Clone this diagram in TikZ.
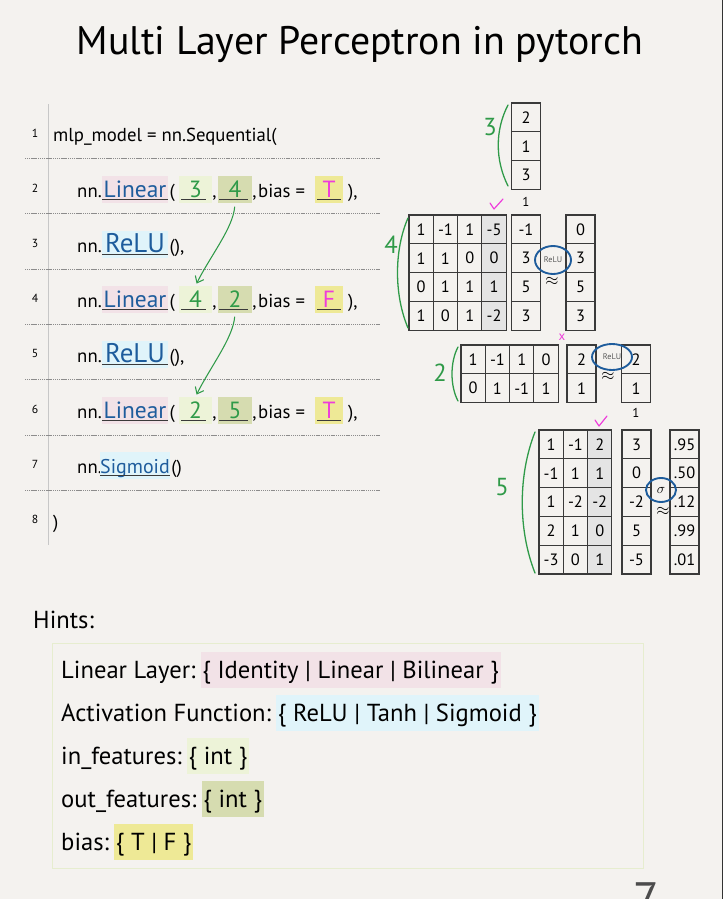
\documentclass[tikz,border=0pt]{standalone}
\usepackage{fontspec}
\setmainfont{PT Sans}
\usetikzlibrary{positioning,shapes.geometric,arrows.meta}

\definecolor{paper}{HTML}{F4F2EF}
\definecolor{hlpink}{HTML}{F2E2E7}
\definecolor{hlcyan}{HTML}{E0F4FA}
\definecolor{hlgreen}{HTML}{EDF3D8}
\definecolor{hlolive}{HTML}{D6DCB0}
\definecolor{hlyellow}{HTML}{EEE996}
\definecolor{inkblue}{HTML}{1E5C9C}
\definecolor{inkgreen}{HTML}{2F9A48}
\definecolor{inkmag}{HTML}{EE3CDB}
\definecolor{inkgray}{HTML}{3A3A3A}
\definecolor{colshade}{HTML}{E4E4E4}
\definecolor{framegreen}{HTML}{E6EDCF}

\tikzset{
  code/.style={font=\fontsize{16}{18}\selectfont, inner sep=0pt, anchor=base west},
  lnum/.style={font=\fontsize{10}{11}\selectfont, anchor=base},
  hl/.style={fill=#1, anchor=base, text height=16pt, text depth=3pt, inner ysep=2pt, inner xsep=0pt},
  word/.style={font=\fontsize{20}{22}\selectfont, text=inkblue},
  arg/.style={font=\fontsize{20}{22}\selectfont, text=inkgreen},
  flag/.style={font=\fontsize{20}{22}\selectfont, text=inkmag},
  uline/.style={draw=inkgray, line width=0.9pt},
  ruled/.style={draw=black!45, line width=0.6pt, dash pattern=on 1pt off 0.6pt},
  marginline/.style={draw=black!22, line width=0.8pt},
  flow/.style={draw=inkgreen, line width=0.9pt, -{Straight Barb[length=5pt,width=8pt]}, shorten <=3pt, shorten >=2pt},
  cell/.style={draw=inkgray, line width=0.9pt, minimum width=0.73cm, minimum height=0.864cm, inner sep=0pt, font=\fontsize{14}{16}\selectfont},
  vcell/.style={cell, minimum width=0.87cm},
  dimlabel/.style={font=\fontsize{21}{24}\selectfont, text=inkgreen},
  paren/.style={draw=inkgreen, line width=1.1pt, line cap=round},
  actring/.style={ellipse, draw=inkblue, line width=1.6pt, inner sep=0pt, font=\fontsize{7}{8}\selectfont, text=black!65},
  approx/.style={font=\Large, inner sep=0pt},
  tick/.style={draw=inkmag, line width=1pt, line cap=round, line join=round},
  crossmark/.style={font=\fontsize{11}{12}\selectfont, text=inkmag},
  hintkey/.style={font=\fontsize{21}{24}\selectfont, inner sep=0pt, anchor=base west},
  hintval/.style={hintkey, fill=#1, text height=19pt, text depth=5.5pt, inner ysep=3pt, inner xsep=1.5pt},
}

\begin{document}
\begin{tikzpicture}[x=0.03cm,y=-0.03cm]
  \useasboundingbox (0,0) rectangle (723,899);
  \fill[paper] (0,0) rectangle (723,899);
  \fill[black!80] (721.5,0) rectangle (723,899);

  \node[font=\fontsize{34}{40}\selectfont] (title) at (360,44) {Multi Layer Perceptron in pytorch};

  % code lines
  \draw[marginline] (48,104) -- (48,545);
  \foreach \n/\b in {1/137,2/192,3/247,4/302,5/357,6/413,7/468,8/523}
    \node[lnum] (ln\n) at (35,\b) {\n};
  \foreach \y in {158,213,269,324,379,435,490}
    \draw[ruled] (25,\y) -- (380,\y);
  \node[code] (l1) at (53,141.5) {mlp\_model = nn.Sequential(};

  \foreach \b/\fin/\fout/\fb [count=\k] in {197/3/4/T,307/4/2/F,418/2/5/T}{
    \node[code, anchor=base east] (nnl\k) at (102,\b) {nn.};
    \node[hl=hlpink, word, minimum width=1.98cm] (lin\k) at (135,\b) {Linear};
    \node[code] (po\k) at ([xshift=1pt]lin\k.base east) {(};
    \node[hl=hlgreen, arg, minimum width=0.99cm] (in\k) at (195.5,\b) {\fin};
    \node[code] (ca\k) at (in\k.base east) {,};
    \node[hl=hlolive, arg, minimum width=1.02cm] (out\k) at (235,\b) {\fout};
    \node[code] (cb\k) at (out\k.base east) {,};
    \node[code] (bias\k) at (258,\b) {bias =};
    \node[hl=hlyellow, flag, minimum width=0.84cm] (bv\k) at (329,\b) {\fb};
    \node[code] (pc\k) at ([xshift=4pt]bv\k.base east) {),};
    \draw[uline] ([yshift=3.3pt]lin\k.south west) -- ([yshift=3.3pt]lin\k.south east);
    \draw[uline] ([xshift=2pt,yshift=3.3pt]in\k.south west) -- ([xshift=-5pt,yshift=3.3pt]in\k.south east);
    \draw[uline] ([xshift=1pt,yshift=3.3pt]out\k.south west) -- ([xshift=-4pt,yshift=3.3pt]out\k.south east);
    \draw[uline] ([xshift=2pt,yshift=3.3pt]bv\k.south west) -- ([xshift=-2pt,yshift=3.3pt]bv\k.south east);
  }
  \foreach \b [count=\k] in {252,362}{
    \node[code, anchor=base east] (nnr\k) at (102,\b) {nn.};
    \node[hl=hlcyan, word, font=\fontsize{23}{25}\selectfont, minimum width=1.98cm] (relu\k) at (135,\b) {ReLU};
    \node[code] (rp\k) at ([xshift=1pt]relu\k.base east) {(),};
    \draw[uline] ([yshift=3.3pt]relu\k.south west) -- ([yshift=3.3pt]relu\k.south east);
  }
  \node[code, anchor=base east] (nns) at (102,473) {nn.};
  \node[hl=hlcyan, word, font=\fontsize{17}{19}\selectfont, minimum width=1.98cm] (sigm) at (135,473) {Sigmoid};
  \node[code] (sp) at ([xshift=1pt]sigm.base east) {()};
  \draw[uline] ([yshift=3.3pt]sigm.south west) -- ([yshift=3.3pt]sigm.south east);
  \node[code] (l8) at (53,528) {)};

  \draw[flow] (out1.south) .. controls +(-2,25) and +(15,-30) .. (in2.north);
  \draw[flow] (out2.south) .. controls +(-2,25) and +(15,-30) .. (in3.north);

  % input vector
  \foreach \v [count=\i] in {2,1,3}
    \node[vcell] (xin-\i) at (526,{103+28.8*(\i-0.5)}) {\v};
  \node[lnum, font=\fontsize{11}{12}\selectfont] (xone) at (526,206) {1};
  \node[dimlabel] (dx) at (490,127) {3};
  \draw[paren] (508,105) .. controls (495,130) and (495,160) .. (508,186);

  % layer 1
  \fill[colshade] (409+3*24.3,215) rectangle (409+4*24.3,215+4*28.8);
  \foreach \rowvals [count=\i] in {{1,-1,1,-5},{1,1,0,0},{0,1,1,1},{1,0,1,-2}}
    \foreach \v [count=\j] in \rowvals
      \node[cell] (wa-\i-\j) at ({409+24.3*(\j-0.5)},{215+28.8*(\i-0.5)}) {\v};
  \draw[tick] (490,203) -- (494,209) -- (503,199);
  \node[dimlabel] (dwa) at (391,245) {4};
  \draw[paren] (408,218) .. controls (394,250) and (394,295) .. (408,328);
  \foreach \v [count=\i] in {-1,3,5,3}
    \node[vcell] (za-\i) at (526,{215+28.8*(\i-0.5)}) {\v};
  \foreach \v [count=\i] in {0,3,5,3}
    \node[vcell] (aa-\i) at (580.5,{215+28.8*(\i-0.5)}) {\v};
  \node[actring, minimum width=1.08cm, minimum height=0.84cm] (acta) at (553,260) {ReLU};
  \node[approx] (apxa) at (552,281) {$\approx$};
  \node[crossmark] (xa) at (562,337) {x};

  % layer 2
  \foreach \rowvals [count=\i] in {{1,-1,1,0},{0,1,-1,1}}
    \foreach \v [count=\j] in \rowvals
      \node[cell] (wb-\i-\j) at ({461+24.3*(\j-0.5)},{345+28.8*(\i-0.5)}) {\v};
  \node[dimlabel] (dwb) at (440,373) {2};
  \draw[paren] (458,347) .. controls (450,362) and (450,386) .. (458,401);
  \foreach \v [count=\i] in {2,1}
    \node[vcell] (zb-\i) at (581.5,{345+28.8*(\i-0.5)}) {\v};
  \foreach \v [count=\i] in {2,1}
    \node[vcell] (ab-\i) at (636,{345+28.8*(\i-0.5)}) {\v};
  \node[actring, minimum width=1.2cm, minimum height=0.78cm] (actb) at (612,357) {ReLU};
  \node[approx] (apxb) at (608,376) {$\approx$};
  \node[lnum, font=\fontsize{11}{12}\selectfont] (bone) at (636,417) {1};

  % layer 3
  \fill[colshade] (539+2*24.3,430) rectangle (539+3*24.3,430+5*28.8);
  \foreach \rowvals [count=\i] in {{1,-1,2},{-1,1,1},{1,-2,-2},{2,1,0},{-3,0,1}}
    \foreach \v [count=\j] in \rowvals
      \node[cell] (wc-\i-\j) at ({539+24.3*(\j-0.5)},{430+28.8*(\i-0.5)}) {\v};
  \draw[tick] (595,420) -- (599,426) -- (607,416);
  \node[dimlabel] (dwc) at (502,487) {5};
  \draw[paren] (535,432) .. controls (518,475) and (518,530) .. (535,573);
  \foreach \v [count=\i] in {3,0,-2,5,-5}
    \node[vcell] (zc-\i) at (636.5,{430+28.8*(\i-0.5)}) {\v};
  \foreach \v [count=\i] in {.95,.50,.12,.99,.01}
    \node[vcell] (ac-\i) at (684.5,{430+28.8*(\i-0.5)}) {\v};
  \node[actring, minimum width=0.9cm, minimum height=0.72cm, font=\large, text=black] (actc) at (661,490) {$\sigma$};
  \node[approx] (apxc) at (663,511) {$\approx$};

  % hints
  \node[hintkey] (hints) at (33,628) {Hints:};
  \draw[framegreen, line width=0.6pt] (52,643) rectangle (643,868);
  \node[hintkey] (hk1) at (61,678) {Linear Layer:};
  \node[hintval=hlpink, right=4pt of hk1.base east, anchor=base west] (hv1) {\{ Identity | Linear | Bilinear \}};
  \node[hintkey] (hk2) at (61,721) {Activation Function:};
  \node[hintval=hlcyan, right=4pt of hk2.base east, anchor=base west] (hv2) {\{ ReLU | Tanh | Sigmoid \}};
  \node[hintkey] (hk3) at (61,764) {in\_features:};
  \node[hintval=hlgreen, right=4pt of hk3.base east, anchor=base west] (hv3) {\{ int \}};
  \node[hintkey] (hk4) at (61,807) {out\_features:};
  \node[hintval=hlolive, right=4pt of hk4.base east, anchor=base west] (hv4) {\{ int \}};
  \node[hintkey] (hk5) at (61,850) {bias:};
  \node[hintval=hlyellow, right=4pt of hk5.base east, anchor=base west] (hv5) {\{ T | F \}};

  \node[font=\fontsize{40}{44}\selectfont, text=black!70, anchor=north] (pgno) at (646,879) {7};
\end{tikzpicture}
\end{document}
